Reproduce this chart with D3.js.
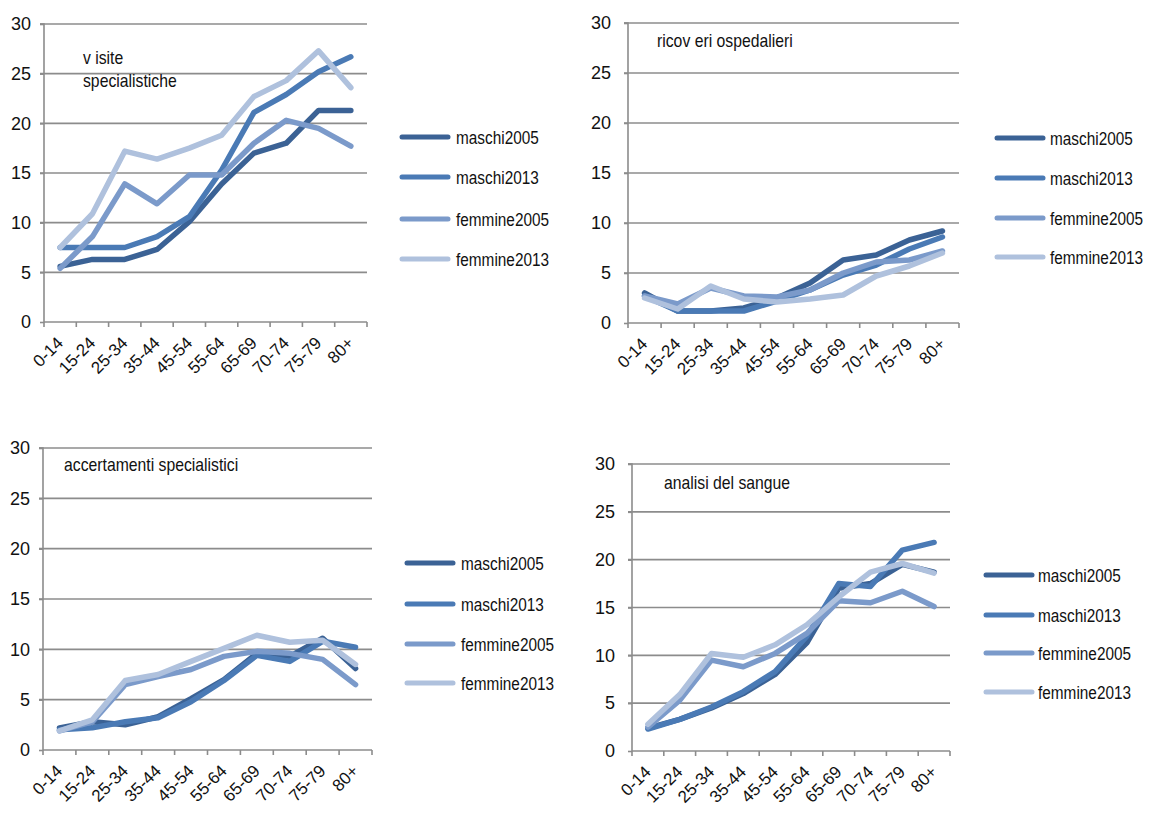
<!DOCTYPE html>
<html>
<head>
<meta charset="utf-8">
<script src="https://cdn.jsdelivr.net/npm/d3@7"></script>
<style>
  html, body { margin: 0; padding: 0; background: #fff; }
  svg { display: block; }
  text { font-family: "Liberation Sans", Arial, sans-serif; fill: #111; }
</style>
</head>
<body>
<svg id="chart" width="1150" height="821"></svg>
<script>
// ---------- data ----------
const categories = ["0-14","15-24","25-34","35-44","45-54","55-64","65-69","70-74","75-79","80+"];
const seriesNames = ["maschi2005","maschi2013","femmine2005","femmine2013"];
const seriesColors = ["#3B6295","#4A7AB5","#7B9ACA","#AFC1DD"];
const yTicks = [0,5,10,15,20,25,30];

const visite_maschi2005   = [5.6,6.3,6.3,7.3,10.1,13.9,17.0,18.0,21.3,21.3];
const visite_maschi2013   = [7.5,7.5,7.5,8.6,10.6,15.3,21.1,22.9,25.2,26.7];
const visite_femmine2005  = [5.4,8.6,13.9,11.9,14.8,14.8,18.0,20.3,19.5,17.7];
const visite_femmine2013  = [7.5,10.9,17.2,16.4,17.5,18.8,22.7,24.3,27.3,23.6];

const ricoveri_maschi2005  = [3.0,1.2,1.2,1.5,2.5,4.0,6.3,6.8,8.3,9.2];
const ricoveri_maschi2013  = [2.7,1.2,1.2,1.2,2.2,3.3,4.8,5.8,7.4,8.6];
const ricoveri_femmine2005 = [2.7,1.9,3.5,2.7,2.6,3.3,5.0,6.1,6.3,7.2];
const ricoveri_femmine2013 = [2.5,1.4,3.7,2.4,2.1,2.4,2.8,4.7,5.7,7.0];

const accertamenti_maschi2005  = [2.2,2.8,2.5,3.3,5.1,7.0,9.6,9.3,11.1,8.1];
const accertamenti_maschi2013  = [2.0,2.2,2.8,3.2,4.8,6.9,9.4,8.8,10.8,10.2];
const accertamenti_femmine2005 = [1.9,2.8,6.5,7.3,8.0,9.3,9.8,9.6,9.0,6.5];
const accertamenti_femmine2013 = [1.9,3.0,6.9,7.5,8.8,10.1,11.4,10.7,10.9,8.5];

const sangue_maschi2005  = [2.4,3.3,4.5,6.0,8.0,11.3,17.0,17.5,19.5,18.7];
const sangue_maschi2013  = [2.3,3.3,4.6,6.2,8.3,12.0,17.5,17.2,21.0,21.8];
const sangue_femmine2005 = [2.5,5.3,9.5,8.8,10.2,12.3,15.7,15.5,16.7,15.1];
const sangue_femmine2013 = [2.8,5.9,10.2,9.8,11.1,13.2,16.1,18.7,19.6,18.6];

const panelTitles = [["v isite","specialistiche"],["ricov eri ospedalieri"],["accertamenti specialistici"],["analisi del sangue"]];
const panelData = [
  [visite_maschi2005, visite_maschi2013, visite_femmine2005, visite_femmine2013],
  [ricoveri_maschi2005, ricoveri_maschi2013, ricoveri_femmine2005, ricoveri_femmine2013],
  [accertamenti_maschi2005, accertamenti_maschi2013, accertamenti_femmine2005, accertamenti_femmine2013],
  [sangue_maschi2005, sangue_maschi2013, sangue_femmine2005, sangue_femmine2013]
];

// ---------- layout ----------
const layouts = [
  {x0:44,  x1:367, yTop:24,  yBot:322, yGap:13, titleX:83,  titleY:64,  legLine:402, legText:456,  legY:[137,177,219,259]},
  {x0:628, x1:959, yTop:23,  yBot:323, yGap:17, titleX:657, titleY:47,  legLine:997, legText:1050, legY:[138,178,218,257]},
  {x0:43,  x1:372, yTop:448, yBot:750, yGap:13, titleX:64,  titleY:471, legLine:407, legText:461,  legY:[563,604,644,683]},
  {x0:632, x1:950, yTop:464, yBot:751, yGap:17, titleX:664, titleY:489, legLine:986, legText:1038, legY:[575,615,653,692]}
];

const svg = d3.select("#chart");
const gridColor = "#8C8C8C";
const squeeze = 0.83;

function narrowText(g, x, y, size, str) {
  return g.append("text")
    .attr("transform", `translate(${x},${y}) scale(${squeeze},1)`)
    .style("font-size", size + "px").text(str);
}

layouts.forEach((L, p) => {
  const g = svg.append("g");
  const x = d3.scaleBand().domain(categories).range([L.x0, L.x1]).padding(0);
  const y = d3.scaleLinear().domain([0, 30]).range([L.yBot, L.yTop]);

  // gridlines
  g.selectAll(".grid").data(yTicks.filter(t => t > 0)).enter().append("line")
    .attr("x1", L.x0 - 4).attr("x2", L.x1)
    .attr("y1", d => y(d)).attr("y2", d => y(d))
    .attr("stroke", gridColor).attr("stroke-width", 1.6);

  // y axis
  const ya = g.append("g").attr("transform", `translate(${L.x0},0)`)
    .call(d3.axisLeft(y).tickValues(yTicks).tickSize(4).tickPadding(L.yGap - 4).tickFormat(d3.format("d")));
  ya.select(".domain").attr("stroke", gridColor).attr("stroke-width", 1.6).attr("d", `M-4,${L.yTop}H0V${L.yBot}`);
  ya.selectAll(".tick line").attr("stroke", gridColor).attr("stroke-width", 1.6);
  ya.selectAll(".tick text").style("font-size", "18px").style("font-family", "Liberation Sans, Arial, sans-serif").attr("fill", "#111");

  // x axis
  const xa = g.append("g").attr("transform", `translate(0,${L.yBot})`)
    .call(d3.axisBottom(x).tickSize(0).tickPadding(0));
  xa.select(".domain").attr("stroke", gridColor).attr("stroke-width", 1.6).attr("d", `M${L.x0},0H${L.x1}`);
  xa.selectAll(".tick text")
    .style("font-size", "17px").style("font-family", "Liberation Sans, Arial, sans-serif").attr("fill", "#111")
    .attr("text-anchor", "end").attr("dy", null).attr("y", null)
    .attr("transform", `translate(4,22) rotate(-45)`);
  // tick marks at category boundaries
  const bounds = categories.map(c => x(c)).concat([x(categories[categories.length - 1]) + x.bandwidth()]);
  g.selectAll(".xt").data(bounds).enter().append("line")
    .attr("x1", d => d).attr("x2", d => d)
    .attr("y1", L.yBot).attr("y2", L.yBot + 5)
    .attr("stroke", gridColor).attr("stroke-width", 1.6);

  // series lines
  const line = d3.line().x((d, i) => x(categories[i]) + x.bandwidth() / 2).y(d => y(d));
  panelData[p].forEach((vals, s) => {
    g.append("path").datum(vals).attr("d", line)
      .attr("fill", "none").attr("stroke", seriesColors[s])
      .attr("stroke-width", 5.5).attr("stroke-linejoin", "round").attr("stroke-linecap", "round");
  });

  // title
  panelTitles[p].forEach((t, i) => {
    narrowText(g, L.titleX, L.titleY + i * 23, 19, t);
  });

  // legend
  seriesNames.forEach((n, s) => {
    g.append("line").attr("x1", L.legLine).attr("x2", L.legLine + 46)
      .attr("y1", L.legY[s]).attr("y2", L.legY[s])
      .attr("stroke", seriesColors[s]).attr("stroke-width", 5).attr("stroke-linecap", "round");
    narrowText(g, L.legText, L.legY[s] + 6.5, 18.5, n);
  });
});
</script>
</body>
</html>
